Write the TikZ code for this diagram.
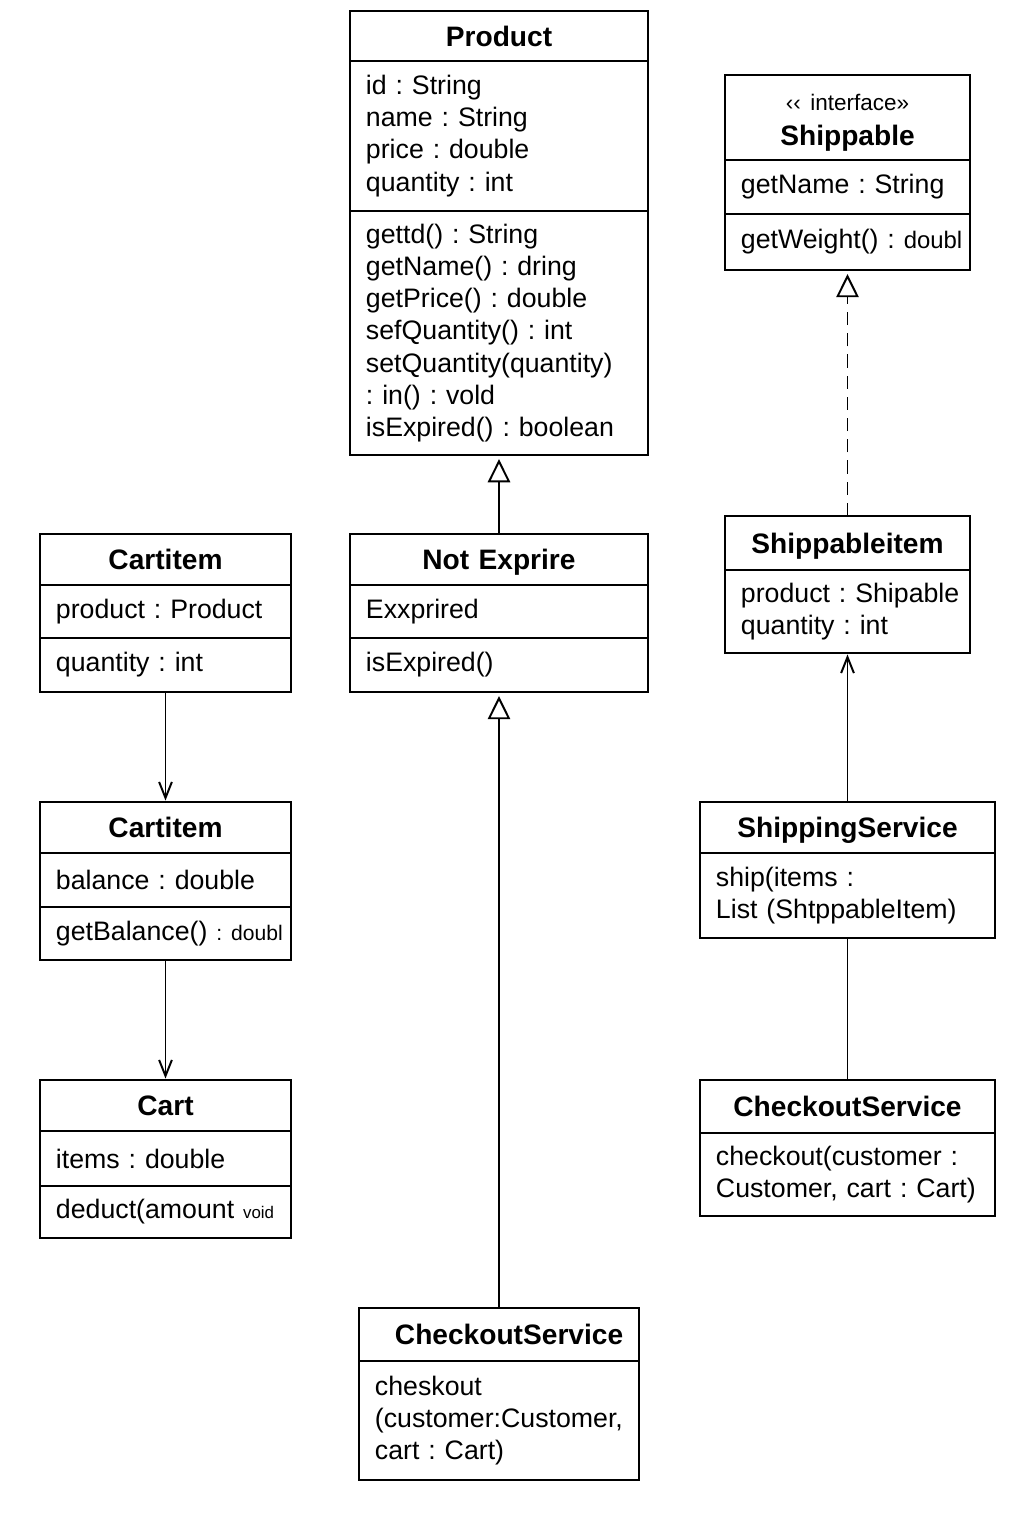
\documentclass[tikz,border=0pt]{standalone}
\usepackage{fontspec}
\setmainfont{Liberation Sans}
\usepackage{tikz}
\usetikzlibrary{arrows.meta,positioning}
\frenchspacing
\newcommand{\shrunk}[2]{{\fontsize{#1}{#1}\selectfont #2}}

\begin{document}
\begin{tikzpicture}[
  x=0.025cm, y=-0.025cm,
  part/.style={draw, line width=1.3pt, inner xsep=4mm, inner ysep=1pt, outer sep=0pt},
  head/.style={part, text width=#1, align=center, text depth=0pt, font=\fontsize{20}{24}\selectfont\bfseries},
  body/.style={part, text width=#1, align=left, font=\fontsize{19}{22.8}\selectfont},
  link/.style={line width=1.4pt},
  inherit/.style={link, shorten >=1mm, -{Triangle[open, length=5.8mm, width=5.6mm]}},
  realize/.style={inherit, dash pattern=on 3.3mm off 2mm},
  assoc/.style={link, shorten >=1pt, -{Straight Barb[length=4mm, width=3.2mm]}},
]
\useasboundingbox (0,0) rectangle (1024,1536);

% middle column: product hierarchy
\node[head=6.65cm, minimum height=12.5mm] (prod) at (499,36) {Product};
\node[body=6.65cm, minimum height=37.5mm, below=0pt of prod] (prodattr) {id : String\\name : String\\price : double\\quantity : int};
\node[body=6.65cm, minimum height=61mm, below=0pt of prodattr] (prodops) {gettd() : String\\getName() : dring\\getPrice() : double\\sefQuantity() : int\\setQuantity(quantity)\\: in() : vold\\isExpired() : boolean};

\node[head=6.65cm, minimum height=12.75mm] (noexp) at (499,559.5) {Not Exprire};
\node[body=6.65cm, minimum height=13.25mm, below=0pt of noexp] (noexpattr) {Exxprired};
\node[body=6.65cm, minimum height=13.5mm, below=0pt of noexpattr] (noexpops) {isExpired()};

\node[head=6.2cm, minimum height=13.25mm] (cobot) at (499,1334.5) {\mbox{\hspace*{5mm}CheckoutService}};
\node[body=6.2cm, minimum height=29.75mm, below=0pt of cobot] (cobotops) {cheskout\\(customer:Customer,\\cart : Cart)};

% left column: cart chain
\node[head=5.475cm, minimum height=12.75mm] (citem) at (165.5,559.5) {Cartitem};
\node[body=5.475cm, minimum height=13.25mm, below=0pt of citem] (citemattr) {product : Product};
\node[body=5.475cm, minimum height=13.5mm, below=0pt of citemattr] (citemops) {quantity : int};

\node[head=5.475cm, minimum height=12.75mm] (bitem) at (165.5,827.5) {Cartitem};
\node[body=5.475cm, minimum height=13.5mm, below=0pt of bitem] (bitemattr) {balance : double};
\node[body=5.475cm, minimum height=13.25mm, below=0pt of bitemattr] (bitemops) {getBalance()~\shrunk{15}{:~doubl}};

\node[head=5.475cm, minimum height=12.75mm] (cart) at (165.5,1105.5) {Cart};
\node[body=5.475cm, minimum height=13.75mm, below=0pt of cart] (cartattr) {items : double};
\node[body=5.475cm, minimum height=13mm, below=0pt of cartattr] (cartops) {deduct(amount~\shrunk{12}{void}};

% right column: shipping
\node[head=5.325cm, minimum height=21.25mm, text depth=22pt] (ship) at (847.5,117.5) {{\mdseries\fontsize{16}{19}\selectfont ‹‹ interface»}\\[1pt]Shippable};
\node[body=5.325cm, minimum height=13.5mm, below=0pt of ship] (shipattr) {getName : String};
\node[body=5.325cm, minimum height=14mm, below=0pt of shipattr] (shipops) {getWeight()~:~\shrunk{17}{doubl}};

\node[head=5.325cm, minimum height=13.5mm] (sitem) at (847.5,543) {Shippableitem};
\node[body=5.325cm, minimum height=20.75mm, below=0pt of sitem] (sitemattr) {product~:~Shipable\\quantity : int};

\node[head=6.575cm, minimum height=12.75mm] (shipsvc) at (847.5,827.5) {ShippingService};
\node[body=6.575cm, minimum height=21.25mm, below=0pt of shipsvc] (shipsvcops) {ship(items :\\List (ShtppableItem)};

\node[head=6.575cm, minimum height=13.25mm] (cosvc) at (847.5,1106.5) {CheckoutService\hspace*{3.5mm}};
\node[body=6.575cm, minimum height=20.75mm, below=0pt of cosvc] (cosvcops) {checkout(customer :\\Customer, cart : Cart)};

% generalisation and realisation
\draw[inherit] (noexp.north) -- (prodops.south);
\draw[inherit] (cobot.north) -- (noexpops.south);
\draw[realize] (sitem.north) -- (shipops.south);

% associations
\draw[assoc] (citemops.south) -- (bitem.north);
\draw[assoc] (bitemops.south) -- (cart.north);
\draw[assoc] (shipsvc.north) -- (sitemattr.south);
\draw[link] (shipsvcops.south) -- (cosvc.north);
\end{tikzpicture}
\end{document}
